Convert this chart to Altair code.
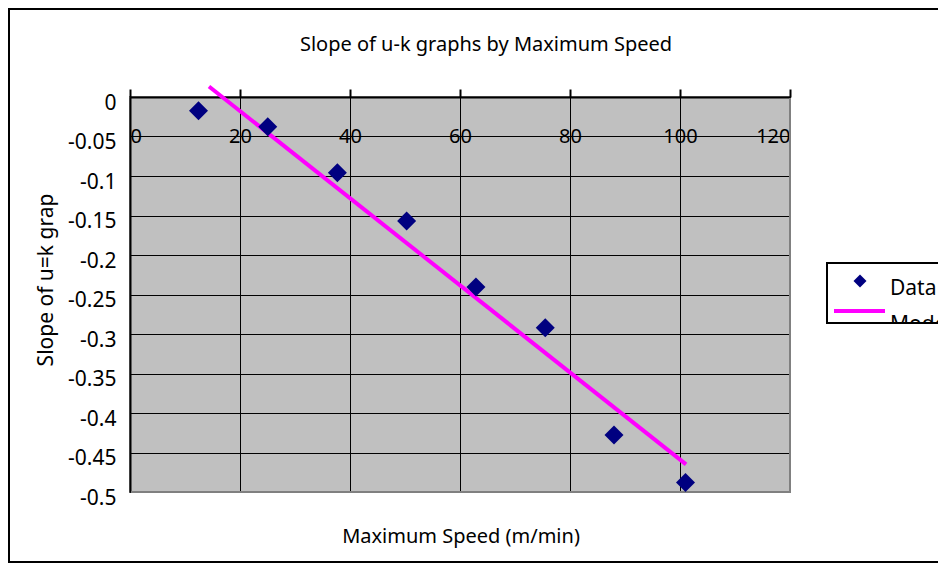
import altair as alt
import pandas as pd

# ---- data ----
speed = [12.45, 25.05, 37.7, 50.3, 62.9, 75.5, 88.0, 101.0]
slope = [-0.0173, -0.0376, -0.0958, -0.157, -0.2405, -0.292, -0.428, -0.488]
model_speed = [14.36, 101.1]
model_slope = [0.0133, -0.465]

x_ticks = [0, 20, 40, 60, 80, 100, 120]
y_ticks = [0, -0.05, -0.1, -0.15, -0.2, -0.25, -0.3, -0.35, -0.4, -0.45, -0.5]

title_text = "Slope of u-k graphs by Maximum Speed"
x_title = "Maximum Speed (m/min)"
y_title = "Slope of u=k grap"
legend_labels = ["Data", "Model"]

FONT = "Noto Sans"
W, H = 660, 395
one = alt.Data(values=[{}])

points_df = pd.DataFrame({"speed": speed, "slope": slope})
model_df = pd.DataFrame({"speed": model_speed, "slope": model_slope})

xscale = alt.Scale(domain=[0, 120], nice=False, zero=False)
yscale = alt.Scale(domain=[-0.5, 0], nice=False, zero=False)

xaxis = alt.Axis(orient="top", values=x_ticks, title=None, grid=True,
                 gridColor="black", gridWidth=1, gridOpacity=1,
                 domainColor="black", domainWidth=2,
                 tickColor="black", tickWidth=2, tickSize=8,
                 labelPadding=-47, labelBaseline="middle", labelFontSize=20,
                 labelColor="black", labelFont=FONT, labelOverlap=False)
yaxis = alt.Axis(orient="left", values=y_ticks, title=None, grid=True,
                 gridColor="black", gridWidth=1, gridOpacity=1,
                 domainColor="black", domainWidth=2,
                 ticks=False, tickSize=0, labelPadding=14, labelOffset=6,
                 labelFontSize=21, labelColor="black", labelFont=FONT,
                 labelOverlap=False, labelExpr="toString(datum.value)")

enc_x = alt.X("speed:Q", scale=xscale, axis=xaxis)
enc_y = alt.Y("slope:Q", scale=yscale, axis=yaxis)

border = alt.Chart(one).mark_rect(fill="transparent", stroke="black", strokeWidth=2).encode(
    x=alt.value(-121), x2=alt.value(850), y=alt.value(-88), y2=alt.value(465))

# gray lower/right edge of the plot area (Excel style)
edge_bottom = alt.Chart(one).mark_rule(color="#808080", strokeWidth=2).encode(
    x=alt.value(1), x2=alt.value(W + 1), y=alt.value(H))
edge_right = alt.Chart(one).mark_rule(color="#808080", strokeWidth=2).encode(
    x=alt.value(W), y=alt.value(1), y2=alt.value(H + 1))

model_line = alt.Chart(model_df).mark_line(color="#FF00FF", strokeWidth=4).encode(
    x=enc_x, y=enc_y)

pts = alt.Chart(points_df).mark_point(shape="diamond", filled=True, size=361,
                                      color="#000080", opacity=1).encode(x=enc_x, y=enc_y)

title = alt.Chart(one).mark_text(text=title_text, font=FONT, fontSize=20, color="black",
                                 align="center", baseline="alphabetic").encode(
    x=alt.value(356), y=alt.value(-46))
xt = alt.Chart(one).mark_text(text=x_title, font=FONT, fontSize=20, color="black",
                              align="center", baseline="alphabetic").encode(
    x=alt.value(331), y=alt.value(446))
yt = alt.Chart(one).mark_text(text=y_title, font=FONT, fontSize=21, color="black",
                              align="center", baseline="middle", angle=270).encode(
    x=alt.value(-83), y=alt.value(183))

# ---- legend (drawn by hand, clipped like the reference) ----
leg_box = alt.Chart(one).mark_rect(fill="white").encode(
    x=alt.value(697), x2=alt.value(850), y=alt.value(166), y2=alt.value(226))
leg_pt = alt.Chart(one).mark_point(shape="diamond", filled=True, size=170,
                                   color="#000080", opacity=1).encode(
    x=alt.value(730), y=alt.value(184))
leg_t1 = alt.Chart(one).mark_text(text=legend_labels[0], font=FONT, fontSize=21, color="black",
                                  align="left", baseline="alphabetic").encode(
    x=alt.value(760), y=alt.value(198))
leg_line = alt.Chart(one).mark_rule(color="#FF00FF", strokeWidth=4).encode(
    x=alt.value(704), x2=alt.value(755), y=alt.value(214))
leg_t2 = alt.Chart(one).mark_text(text=legend_labels[1], font=FONT, fontSize=21, color="black",
                                  align="left", baseline="alphabetic").encode(
    x=alt.value(760), y=alt.value(234))
leg_cover = alt.Chart(one).mark_rect(fill="white").encode(
    x=alt.value(690), x2=alt.value(860), y=alt.value(227), y2=alt.value(262))
leg_outline = alt.Chart(one).mark_rect(fill="transparent", stroke="black", strokeWidth=2).encode(
    x=alt.value(697), x2=alt.value(850), y=alt.value(166), y2=alt.value(226))

chart = alt.layer(
    border, edge_bottom, edge_right, model_line, pts, title, xt, yt,
    leg_box, leg_pt, leg_t1, leg_line, leg_t2, leg_cover, leg_outline
).properties(
    width=W, height=H, autosize="none",
    padding={"left": 122, "top": 89, "right": 148, "bottom": 72},
    background="white",
    view=alt.ViewBackground(fill="#C0C0C0", stroke="#808080", strokeWidth=2)
).configure(font=FONT)

chart.save("out.html", embed_options={"renderer": "svg", "actions": False})
